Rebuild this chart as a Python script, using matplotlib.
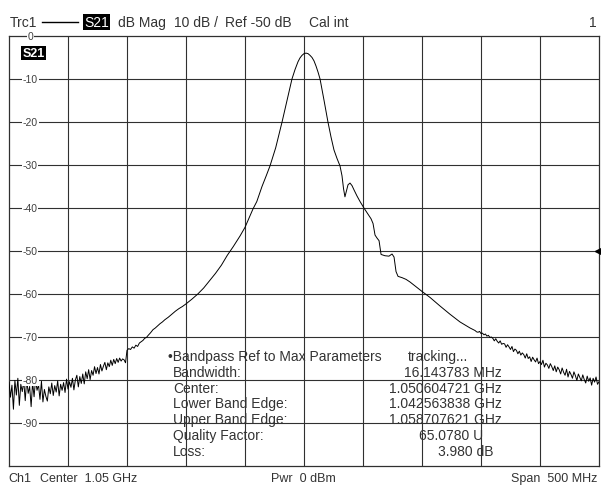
import matplotlib.pyplot as plt
import numpy as np

plt.rcParams['font.family'] = ['Liberation Sans', 'DejaVu Sans']

# sweep 800 .. 1300 MHz, S21 in dB
# noisy low-frequency part (800 - 900 MHz, uniform sweep points)
left_start, left_stop = 800, 900
left_db = [-80.5, -84.0, -81.2, -86.8, -80.1, -83.5, -79.6, -85.9, -81.0, -82.7,
           -80.2, -84.8, -79.8, -83.1, -81.5, -86.2, -80.6, -83.9, -79.9, -82.4,
           -81.1, -84.5, -80.3, -85.1, -82.2, -83.8, -84.9, -81.6, -83.2, -80.7,
           -83.6, -81.3, -82.8, -80.2, -83.7, -81.0, -82.4, -80.6, -82.9, -79.8,
           -82.1, -80.4, -81.7, -79.6, -82.3, -80.0, -78.9, -81.6, -79.2, -80.8,
           -78.6, -80.9, -78.1, -79.7, -77.6, -79.9, -77.8, -78.9, -76.9, -78.5,
           -77.1, -78.6, -76.4, -77.9, -76.8, -75.9, -77.6, -76.0, -76.9, -75.4,
           -76.6, -75.2, -76.2, -75.0, -75.9, -74.9, -75.6, -75.1, -75.3, -76.0, -73.1]

# passband region (MHz, dB)
mid_freq = [901.5, 903, 904.5, 906, 907.5, 909, 910.5, 912, 913.5, 915, 916.5, 918, 920, 922,
            924, 926, 928, 930, 932, 935, 938, 941, 944, 947, 950, 955, 960, 965, 970, 975,
            980, 985, 990, 995.8, 1000, 1006.8, 1010, 1014.4, 1018, 1021.2, 1026, 1031.4,
            1035.6, 1039.8, 1042.4, 1044.9, 1046.6, 1048.3, 1050.0, 1051.7, 1053.4, 1055.1,
            1056.8, 1058.5, 1060.2, 1061.9, 1063.6, 1067.0, 1070.3, 1072.9, 1075.4, 1078.0,
            1080.5, 1082.2, 1083.5, 1084.7, 1086.0, 1087.3, 1089.0, 1090.7, 1092.4, 1094.9,
            1097.5, 1100.8, 1104.2, 1106.8, 1108.5, 1110.2, 1111.9, 1113.6, 1115.3, 1118.6,
            1122.0, 1124.6, 1126.3, 1128.0, 1129.7, 1133.1, 1136.5, 1139.8, 1144.9, 1150.0,
            1156.8, 1165.3, 1173.7, 1182.2, 1190.7]
mid_db = [-72.7, -72.9, -72.3, -72.6, -71.9, -72.2, -71.4, -71.1, -70.8, -70.3, -70.1, -69.6,
          -69.0, -68.3, -67.9, -67.4, -66.9, -66.5, -66.0, -65.4, -64.7, -64.0, -63.4, -62.9,
          -62.3, -61.2, -60.0, -58.6, -56.9, -55.2, -53.3, -51.0, -49.0, -46.5, -44.5, -40.2,
          -38.5, -35.0, -32.5, -30.2, -26.0, -20.0, -15.0, -10.0, -7.8, -6.0, -5.1, -4.5,
          -4.1, -3.98, -4.1, -4.5, -5.0, -5.8, -7.0, -8.4, -10.0, -15.0, -20.0, -23.5,
          -26.5, -28.5, -30.2, -32.5, -35.5, -37.4, -36.0, -34.6, -34.2, -34.8, -35.8, -37.2,
          -38.5, -40.0, -41.4, -42.5, -43.6, -46.3, -47.0, -47.6, -50.8, -51.1, -51.2, -50.7,
          -51.4, -54.8, -55.9, -56.2, -56.6, -57.2, -58.3, -59.4, -60.8, -62.8, -64.7, -66.5,
          -67.9]

# noisy upper part (1195 - 1300 MHz, uniform sweep points)
right_start, right_stop = 1195, 1300
right_db = [-68.5, -68.8, -68.9, -68.7, -69.2, -69.1, -69.5, -69.3, -69.8, -69.6,
            -70.1, -70.0, -70.3, -70.9, -70.4, -71.0, -71.4, -70.9, -71.7, -71.5,
            -71.6, -72.4, -71.8, -72.3, -72.9, -72.2, -73.4, -72.8, -73.1, -73.9,
            -73.3, -74.2, -73.7, -74.1, -74.9, -73.9, -75.0, -74.6, -75.7, -74.7,
            -75.3, -75.8, -74.9, -76.2, -75.7, -76.4, -75.4, -77.0, -76.1, -76.5,
            -77.3, -76.2, -76.9, -77.8, -76.7, -78.1, -77.0, -77.6, -78.6, -77.2,
            -78.2, -78.9, -77.5, -79.3, -78.0, -78.7, -79.6, -78.1, -79.0, -80.1,
            -78.6, -79.4, -80.2, -78.8, -79.9, -80.7, -79.1, -80.3, -79.5, -81.2,
            -79.6, -80.5, -79.3, -81.0, -80.4]

y_ticks = [0, -10, -20, -30, -40, -50, -60, -70, -80, -90]

marker_rows = [("\u2022Bandpass Ref to Max Parameters", "tracking..."),
               ("Bandwidth:", "16.143783 MHz"),
               ("Center:", "1.050604721 GHz"),
               ("Lower Band Edge:", "1.042563838 GHz"),
               ("Upper Band Edge:", "1.058707621 GHz"),
               ("Quality Factor:", "65.0780 U"),
               ("Loss:", "3.980 dB")]

freq = np.concatenate([np.linspace(left_start, left_stop, len(left_db)),
                       mid_freq,
                       np.linspace(right_start, right_stop, len(right_db))])
s21 = np.concatenate([left_db, mid_db, right_db])

W, H = 601, 489
fig = plt.figure(figsize=(W / 100, H / 100), dpi=100)
ax = fig.add_axes([9 / W, 1 - 467 / H, 590 / W, 430 / H])

def px(x, y):
    return x / W, 1 - y / H

ax.set_xlim(800, 1300)
ax.set_ylim(-100, 0)
for f in np.arange(850, 1300, 50):
    ax.axvline(f, color='#303030', lw=0.8, zorder=1)
for d in range(-90, 0, 10):
    ax.axhline(d, color='#303030', lw=0.8, zorder=1)
ax.set_xticks([])
ax.set_yticks([])
for s in ax.spines.values():
    s.set_color('#303030')
    s.set_linewidth(0.9)

ax.plot(freq, s21, color='black', lw=0.7, zorder=3)

# y scale labels on the left edge
for d in y_ticks:
    ax.text(0.036, d, str(d), transform=ax.get_yaxis_transform(), ha='center', va='center',
            fontsize=7.5, color='#404040', zorder=5, clip_on=False,
            bbox=dict(facecolor='white', edgecolor='none', pad=0.5))

# reference level marker
ax.plot([1.0], [-50], marker='<', color='black', markersize=6,
        transform=ax.get_yaxis_transform(), clip_on=False, zorder=6)

# trace label inside plot
ax.text(13.5 / 590, 1 - 11 / 430, "S21", transform=ax.transAxes, ha='left', va='top',
        fontsize=9, color='white', fontweight='bold', zorder=6,
        bbox=dict(facecolor='black', edgecolor='none', pad=1.0))

# marker readout
tc = '#333333'
for i, (lab, val) in enumerate(marker_rows):
    y = 357 + i * 15.8
    if i == 0:
        fig.text(*px(168, y), lab, ha='left', va='center', fontsize=10, color=tc, zorder=7)
        fig.text(*px(408, y), val, ha='left', va='center', fontsize=10, color=tc, zorder=7)
    else:
        fig.text(*px(173, y), lab, ha='left', va='center', fontsize=10, color=tc, zorder=7)
        right = {5: 483, 6: 493}.get(i, 502)
        fig.text(*px(right, y), val, ha='right', va='center', fontsize=10, color=tc, zorder=7)

# header
hc = '#333333'
fig.text(*px(10, 23), "Trc1", ha='left', va='center', fontsize=10, color=hc)
fig.add_artist(plt.Line2D([42 / W, 78 / W], [1 - 23 / H, 1 - 23 / H], color='black', lw=1))
fig.text(*px(84, 23), "S21", ha='left', va='center', fontsize=10, color='white',
         bbox=dict(facecolor='black', edgecolor='none', pad=1.0))
fig.text(*px(118, 23), "dB Mag", ha='left', va='center', fontsize=10, color=hc)
fig.text(*px(174, 23), "10 dB /", ha='left', va='center', fontsize=10, color=hc)
fig.text(*px(225, 23), "Ref -50 dB", ha='left', va='center', fontsize=10, color=hc)
fig.text(*px(309, 23), "Cal int", ha='left', va='center', fontsize=10, color=hc)
fig.text(*px(597, 23), "1", ha='right', va='center', fontsize=10, color=hc)

# footer
fig.text(*px(8, 479), "Ch1", ha='left', va='center', fontsize=9, color=hc)
fig.text(*px(40, 479), "Center  1.05 GHz", ha='left', va='center', fontsize=9, color=hc)
fig.text(*px(303, 479), "Pwr  0 dBm", ha='center', va='center', fontsize=9, color=hc)
fig.text(*px(597, 479), "Span  500 MHz", ha='right', va='center', fontsize=9, color=hc)

fig.savefig("out.png", dpi=100)
